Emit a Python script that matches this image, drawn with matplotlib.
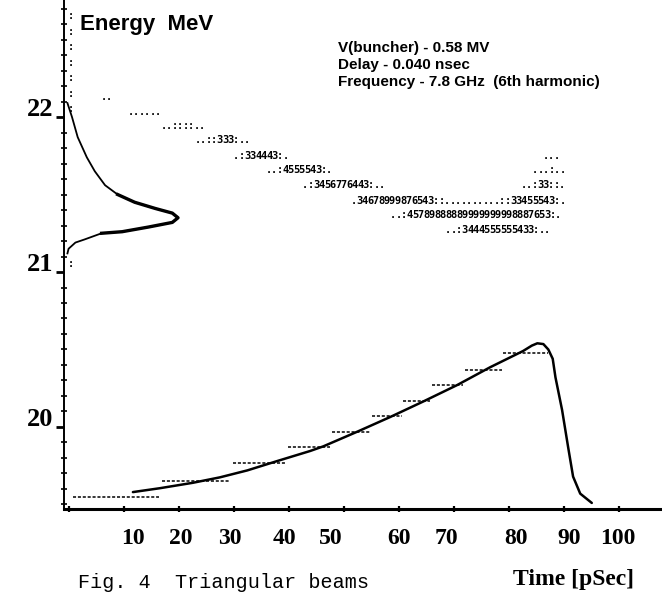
import matplotlib
matplotlib.use("Agg")
import matplotlib.pyplot as plt
import matplotlib.transforms as mtransforms
from matplotlib.ticker import MultipleLocator

# Beam energy vs time (solid curve), pSec / MeV
time_ps = [11.7, 16.6, 22.6, 27.5, 32.5, 37.9, 43.9, 46.3, 52.5, 58.5, 64.5, 70.6,
           76.6, 82.6, 84.2, 85.2, 86.3, 87.2, 88.0, 88.5, 89.7, 90.8, 91.7, 93.0, 95.1]
energy_mev = [19.58, 19.605, 19.64, 19.675, 19.72, 19.78, 19.845, 19.875, 19.97, 20.065,
              20.165, 20.27, 20.385, 20.49, 20.525, 20.54, 20.535, 20.50, 20.44, 20.32,
              20.11, 19.87, 19.68, 19.57, 19.51]

# Dashed bin averages
bin_start = [0.8, 17.0, 29.9, 39.9, 47.9, 55.2, 60.8, 66.1, 72.1, 79.0]
bin_end = [16.5, 29.4, 39.4, 47.5, 54.8, 60.6, 65.7, 71.7, 78.8, 87.2]
bin_energy = [19.55, 19.65, 19.77, 19.87, 19.97, 20.07, 20.17, 20.27, 20.37, 20.48]

# Energy spectrum drawn along the energy axis (relative counts)
hist_energy = [22.09, 22.00, 21.87, 21.74, 21.65, 21.56, 21.50, 21.45, 21.41, 21.38, 21.35,
               21.32, 21.29, 21.26, 21.25, 21.21, 21.19, 21.15, 21.12]
hist_density = [0.03, 0.07, 0.12, 0.20, 0.27, 0.36, 0.47, 0.62, 0.80, 0.95, 1.00,
                0.95, 0.74, 0.51, 0.33, 0.18, 0.10, 0.04, 0.03]

# Printer-plot of the phase space: row energy, starting time, characters (1 pSec per char)
row_energy = [22.13, 22.03, 21.94, 21.85, 21.75, 21.75, 21.66, 21.66, 21.56, 21.56,
              21.46, 21.37, 21.27]
row_start = [6.4, 11.3, 17.3, 23.5, 30.5, 86.7, 36.4, 84.8, 43.0, 82.7, 51.8, 59.0, 69.0]
row_text = ["..", "......", "..::::..", "..::333:..", ".:334443:.", "...",
            "..:4555543:.", "...:..", ".:3456776443:..", "..:33::.",
            ".34678999876543::..........::33455543:.",
            "..:45789888889999999998887653:.",
            "..:3444555555433:.."]
edge_energy = [22.65, 22.55, 22.45, 22.35, 22.25, 22.15, 22.05, 21.05]

x_ticks = list(range(0, 101, 10))
x_labels = ["", "10", "20", "30", "40", "50", "60", "70", "80", "90", "100"]
x_label_shift = [0, 9, 2, -4, -4, -13, 0, -7, 7, 5, -1]   # px, as printed
y_ticks = [20, 21, 22]
y_labels = ["20", "21", "22"]

fig = plt.figure(figsize=(6.62, 6.0), dpi=100)
ax = fig.add_axes([0.0967, 0.1517, 0.9003, 0.8483])
ax.set_xlim(-0.82, 107.5)
ax.set_ylim(19.471, 22.755)
ax.spines["top"].set_visible(False)
ax.spines["right"].set_visible(False)
ax.spines["left"].set_linewidth(1.4)
ax.spines["bottom"].set_linewidth(2.2)

ax.plot(time_ps, energy_mev, color="black", lw=1.8, solid_capstyle="round",
        solid_joinstyle="round")
ax.hlines(bin_energy, bin_start, bin_end, colors="black", lw=1.1,
          linestyles=(0, (2.0, 1.2)))

for e, t0, s in zip(row_energy, row_start, row_text):
    for i, ch in enumerate(s):
        ax.text(t0 + i, e, ch, fontsize=7.5, family="DejaVu Sans Mono", weight="bold",
                ha="center", va="center")
for e in edge_energy:
    ax.text(0.4, e, ":", fontsize=7.5, family="DejaVu Sans Mono", weight="bold",
            ha="center", va="center")

# spectrum on its own horizontal scale
ax2 = ax.twiny()
ax2.set_xlim(0, 5.228)
ax2.plot(hist_density, hist_energy, color="black", lw=1.3, solid_joinstyle="round")
ax2.plot(hist_density[6:15], hist_energy[6:15], color="black", lw=2.4,
         solid_joinstyle="round")
ax2.set_axis_off()

ax.set_xticks(x_ticks)
ax.set_xticklabels(x_labels, fontsize=17, family="Liberation Serif", weight="bold")
ax.tick_params(axis="x", direction="inout", length=5, width=1.6, pad=11)
for tick, dx in zip(ax.xaxis.get_major_ticks(), x_label_shift):
    lbl = tick.label1
    lbl.set_transform(lbl.get_transform() +
                      mtransforms.ScaledTranslation(dx / 100, 0, fig.dpi_scale_trans))

ax.set_yticks(y_ticks)
ax.set_yticklabels(y_labels, fontsize=19, family="Liberation Serif", weight="bold")
ax.yaxis.set_minor_locator(MultipleLocator(0.1))
ax.tick_params(axis="y", which="major", direction="out", length=6, width=2, pad=2)
ax.tick_params(axis="y", which="minor", direction="inout", length=4, width=1.2)
for tick in ax.yaxis.get_major_ticks():
    lbl = tick.label1
    lbl.set_transform(lbl.get_transform() +
                      mtransforms.ScaledTranslation(0, 0.10, fig.dpi_scale_trans))

fig.text(80 / 662, 1 - 30 / 600, "Energy  MeV", fontsize=16, family="Liberation Sans",
         weight="bold", va="baseline")
params = ["V(buncher) - 0.58 MV", "Delay - 0.040 nsec",
          "Frequency - 7.8 GHz  (6th harmonic)"]
for k, line in enumerate(params):
    fig.text(338 / 662, 1 - (52 + 17 * k) / 600, line, fontsize=11,
             family="Liberation Sans", weight="bold", va="baseline")

fig.text(78 / 662, 1 - 583 / 600, "Fig. 4  Triangular beams", fontsize=14.5,
         family="Liberation Mono", va="center")
fig.text(513 / 662, 1 - 580 / 600, "Time [pSec]", fontsize=17,
         family="Liberation Serif", weight="bold", va="center")

fig.savefig("out.png", dpi=100)
